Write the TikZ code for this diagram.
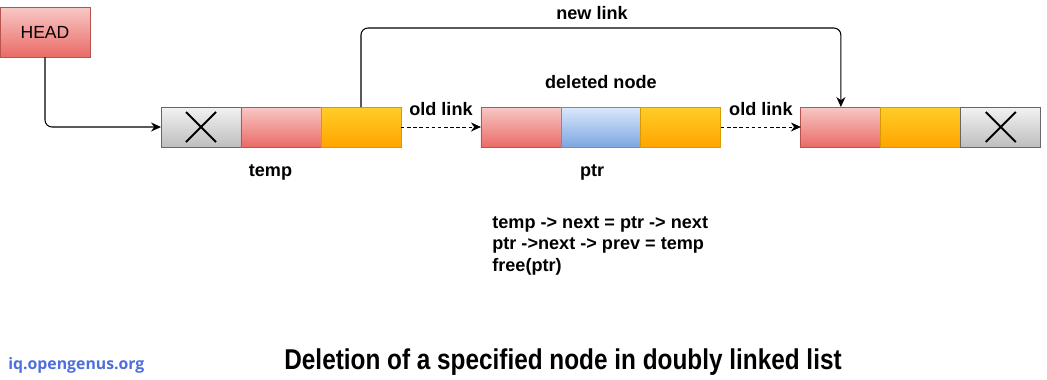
\documentclass[tikz,border=0pt]{standalone}
\usepackage{fontspec}
\setmainfont{Liberation Sans}
\newfontfamily\sitefont{Open Sans}
\usetikzlibrary{positioning,arrows.meta,calc}
\definecolor{RedTop}{RGB}{248,200,198}
\definecolor{RedBot}{RGB}{234,107,102}
\definecolor{RedLine}{RGB}{184,84,80}
\definecolor{OrangeTop}{RGB}{255,205,40}
\definecolor{OrangeBot}{RGB}{255,165,0}
\definecolor{OrangeLine}{RGB}{215,155,0}
\definecolor{BlueTop}{RGB}{218,232,252}
\definecolor{BlueBot}{RGB}{126,166,224}
\definecolor{BlueLine}{RGB}{108,142,191}
\definecolor{GrayTop}{RGB}{242,242,242}
\definecolor{GrayBot}{RGB}{190,190,190}
\definecolor{GrayLine}{RGB}{102,102,102}
\definecolor{SiteBlue}{RGB}{78,110,222}
\tikzset{
  flow/.style={-{Stealth[length=2mm,width=1.8mm]},line width=0.6pt,draw=black,rounded corners=4pt},
  dashflow/.style={-{Stealth[length=2mm,width=1.8mm]},line width=0.5pt,dash pattern=on 2pt off 1.5pt,draw=black},
  cell/.style={rectangle,minimum width=1.6cm,minimum height=0.8cm,outer sep=0pt,line width=0.5pt},
  redcell/.style={cell,draw=RedLine,top color=RedTop,bottom color=RedBot},
  orangecell/.style={cell,draw=OrangeLine,top color=OrangeTop,bottom color=OrangeBot},
  bluecell/.style={cell,draw=BlueLine,top color=BlueTop,bottom color=BlueBot},
  nullcell/.style={cell,draw=GrayLine,top color=GrayTop,bottom color=GrayBot},
  headbox/.style={rectangle,draw=RedLine,top color=RedTop,bottom color=RedBot,
    minimum width=1.8cm,minimum height=1cm,font=\fontsize{10}{12}\selectfont},
  cross/.style={line width=1.1pt,draw=black},
  lbl/.style={font=\fontsize{10.3}{12.2}\selectfont\bfseries}
}
\begin{document}
\begin{tikzpicture}[x=0.02cm,y=-0.02cm]
  \useasboundingbox[fill=white] (0,0) rectangle (1047,379);

  \node[headbox] (head) at (45,32) {HEAD};

  % list nodes
  \node[nullcell] (tempnull) at (201,127) {};
  \node[redcell,right=0pt of tempnull] (tempdata) {};
  \node[orangecell,right=0pt of tempdata] (tempnext) {};

  \node[redcell,right=1.6cm of tempnext] (ptrprev) {};
  \node[bluecell,right=0pt of ptrprev] (ptrdata) {};
  \node[orangecell,right=0pt of ptrdata] (ptrnext) {};

  \node[redcell,right=1.6cm of ptrnext] (succprev) {};
  \node[orangecell,right=0pt of succprev] (succdata) {};
  \node[nullcell,right=0pt of succdata] (succnull) {};

  \foreach \n in {tempnull,succnull}{
    \draw[cross] ([shift={(-15,-15)}]\n.center) -- ([shift={(15,15)}]\n.center);
    \draw[cross] ([shift={(-15,15)}]\n.center) -- ([shift={(15,-15)}]\n.center);
  }

  % links
  \coordinate (linktop) at (600,28);
  \draw[flow] (head.south) |- (tempnull.west);
  \draw[flow] (tempnext.north) |- (linktop) -| (succprev.north);
  \draw[dashflow] (tempnext) -- node[lbl,above=3pt] (oldlinka) {old link} (ptrprev);
  \draw[dashflow] (ptrnext) -- node[lbl,above=3pt] (oldlinkb) {old link} (succprev);

  % labels
  \node[lbl] (newlink) at (592,13) {new link};
  \node[lbl,above=7pt of ptrdata] (deleted) {deleted node};
  \node[lbl,below=6.5pt of tempdata,xshift=-6] (templbl) {temp};
  \node[lbl,below=6.5pt of ptrdata,xshift=-5] (ptrlbl) {ptr};
  \node[lbl,anchor=north west,align=left,inner sep=0pt] (code) at (492,216)
    {temp -> next = ptr -> next\\ptr ->next -> prev = temp\\free(ptr)};

  \node[font=\sitefont\fontsize{9}{11}\selectfont\bfseries,text=SiteBlue,anchor=west,inner sep=0pt] (site) at (8,365) {iq.opengenus.org};
  \node[font=\fontsize{16.3}{18}\selectfont\bfseries,xscale=0.85] (title) at (563,362)
    {Deletion of a specified node in doubly linked list};
\end{tikzpicture}
\end{document}
